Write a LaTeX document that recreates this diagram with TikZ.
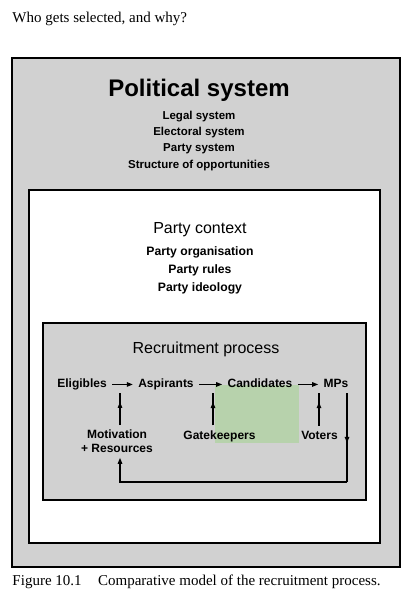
\documentclass[tikz,border=0pt]{standalone}
\usepackage{fontspec}
\setmainfont{Liberation Serif}
\setsansfont{Liberation Sans}
\usetikzlibrary{arrows.meta,decorations.markings,calc}

\definecolor{bggray}{gray}{0.82}
\definecolor{boxgreen}{RGB}{183,210,172}

\begin{document}
\begin{tikzpicture}[x=1pt,y=-1pt,
  every node/.style={inner sep=0pt, outer sep=0pt},
  frame/.style={draw=black, line width=1.6pt},
  big/.style={font=\sffamily\bfseries\fontsize{24}{28}\selectfont, anchor=base},
  head/.style={font=\sffamily\fontsize{16}{19}\selectfont, anchor=base},
  pitem/.style={font=\sffamily\bfseries\fontsize{11.5}{14}\selectfont, anchor=base},
  citem/.style={font=\sffamily\bfseries\fontsize{12.2}{14}\selectfont, anchor=base},
  rowitem/.style={font=\sffamily\bfseries\fontsize{12}{14}\selectfont, text height=8.6pt, text depth=2.5pt, inner xsep=5.5pt, inner ysep=3pt, anchor=base},
  lowitem/.style={font=\sffamily\bfseries\fontsize{12}{14}\selectfont, inner ysep=5pt, align=center},
  serif/.style={font=\rmfamily\fontsize{15}{18}\selectfont, anchor=base west},
  link/.style={line width=1.2pt},
  tip/.style={link, -{Triangle[length=6pt,width=4.5pt]}},
  upmid/.style={link, postaction={decorate}, decoration={markings, mark=at position 0.72 with {\arrow{Triangle[length=6pt,width=4.5pt]}}}},
  downmid/.style={link, postaction={decorate}, decoration={markings, mark=at position 0.56 with {\arrow{Triangle[length=6pt,width=4.5pt]}}}},
]
\useasboundingbox (0,0) rectangle (417,605);

% frames
\draw[frame, fill=bggray] (12,58) rectangle (400,567);
\draw[frame, fill=white] (29,190) rectangle (380,543);
\draw[frame, line width=1.4pt, fill=bggray] (43,323) rectangle (366,500);
\fill[boxgreen] (215,385) rectangle (299,443);

% title and caption
\node[serif] (title) at (12.5,22) {Who gets selected, and why?};
\node[serif] (fig) at (12.5,585) {Figure 10.1\hspace{1.1em}Comparative model of the recruitment process.};

% political system
\node[big] (pol) at (199,96.5) {Political system};
\node[pitem] (legal) at (199,119) {Legal system};
\node[pitem] (elect) at (199,135) {Electoral system};
\node[pitem] (psys) at (199,151) {Party system};
\node[pitem] (struct) at (199,168) {Structure of opportunities};

% party context
\node[head] (pctx) at (200,233.7) {Party context};
\node[citem] (porg) at (200,255.4) {Party organisation};
\node[citem] (prules) at (200,273.4) {Party rules};
\node[citem] (pideo) at (200,291.4) {Party ideology};

% recruitment process
\node[head] (rproc) at (206,353.7) {Recruitment process};
\node[rowitem] (elig) at (82,387.5) {Eligibles};
\node[rowitem] (asp) at (166,387.5) {Aspirants};
\node[rowitem] (cand) at (260,387.5) {Candidates};
\node[rowitem] (mp) at (336,387.5) {MPs};

\node[lowitem, anchor=north] (mot) at (117,425) {Motivation\\+ Resources};
\node[lowitem, anchor=base] (gate) at (219.5,439) {Gatekeepers};
\node[lowitem, anchor=base] (voters) at (319.5,439) {Voters};

\coordinate (a1) at (120,393);
\coordinate (a2) at (213,393);
\coordinate (a3) at (319,393);
\coordinate (fbcorner) at (347,482);

\draw[tip] (elig) -- (asp);
\draw[tip] (asp) -- (cand);
\draw[tip] (cand) -- (mp);
\draw[upmid] (a1 |- mot.north) -- (a1);
\draw[upmid] (a2 |- gate.north) -- (a2);
\draw[upmid] (a3 |- voters.north) -- (a3);
\draw[downmid] (mp.south -| fbcorner) -- (fbcorner);
\draw[tip] (fbcorner) -| (a1 |- mot.south);
\end{tikzpicture}
\end{document}
